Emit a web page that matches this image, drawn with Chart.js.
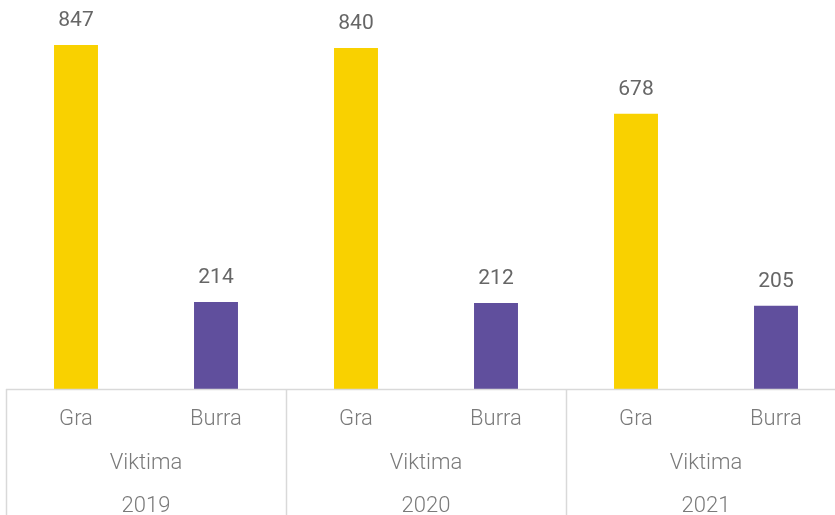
<!DOCTYPE html>
<html>
<head>
<meta charset="utf-8">
<script src="https://cdn.jsdelivr.net/npm/chart.js@4"></script>
<style>
html,body{margin:0;padding:0;background:#fff;overflow:hidden;width:835px;height:515px;}
#wrap{width:855px;height:515px;position:relative;}
</style>
</head>
<body>
<div id="wrap"><canvas id="c" width="855" height="515"></canvas></div>
<script>
const categories = ["Gra", "Burra", "Gra", "Burra", "Gra", "Burra"];
const groupLabel = ["Viktima", "Viktima", "Viktima"];
const years = ["2019", "2020", "2021"];
const values = [847, 214, 840, 212, 678, 205];
const colors = ["#F9D100", "#604F9D", "#F9D100", "#604F9D", "#F9D100", "#604F9D"];

const FONT = "Roboto, 'Open Sans', sans-serif";

const labelsPlugin = {
  id: 'multiLabels',
  afterDatasetsDraw(chart) {
    const ctx = chart.ctx;
    const x = chart.scales.x;
    const area = chart.chartArea;
    const meta = chart.getDatasetMeta(0);
    ctx.save();
    // value labels
    ctx.font = "400 21px " + FONT;
    ctx.fillStyle = "#666666";
    ctx.textAlign = "center";
    ctx.textBaseline = "middle";
    meta.data.forEach((bar, i) => {
      ctx.fillText(String(values[i]), bar.x, bar.y - 24);
    });
    // axis lines
    ctx.strokeStyle = "#d9d9d9";
    ctx.lineWidth = 1.5;
    ctx.beginPath();
    ctx.moveTo(area.left, area.bottom + 0.5);
    ctx.lineTo(area.right, area.bottom + 0.5);
    const step = (x.getPixelForValue(1) - x.getPixelForValue(0));
    for (let g = 0; g <= years.length; g++) {
      const px = Math.round(x.getPixelForValue(g * 2) - step / 2) + 0.5;
      ctx.moveTo(px, area.bottom);
      ctx.lineTo(px, chart.height);
    }
    ctx.stroke();
    // category labels
    ctx.font = "300 22px " + FONT;
    ctx.fillStyle = "#7a7a7a";
    categories.forEach((c, i) => {
      ctx.fillText(c, x.getPixelForValue(i), area.bottom + 30);
    });
    years.forEach((y, g) => {
      const cx = (x.getPixelForValue(g * 2) + x.getPixelForValue(g * 2 + 1)) / 2;
      ctx.fillText(groupLabel[g], cx, area.bottom + 74);
      ctx.fillText(y, cx, area.bottom + 117);
    });
    ctx.restore();
  }
};

new Chart(document.getElementById('c'), {
  type: 'bar',
  data: {
    labels: categories.map((c, i) => c + i),
    datasets: [{
      data: values,
      backgroundColor: colors,
      barPercentage: 0.314,
      categoryPercentage: 1.0
    }]
  },
  options: {
    responsive: false,
    animation: false,
    layout: { padding: { left: 6, right: 9, top: 0, bottom: 126 } },
    plugins: { legend: { display: false }, tooltip: { enabled: false } },
    scales: {
      x: { display: false },
      y: { display: false, min: 0, max: 958 }
    }
  },
  plugins: [labelsPlugin]
});
</script>
</body>
</html>
